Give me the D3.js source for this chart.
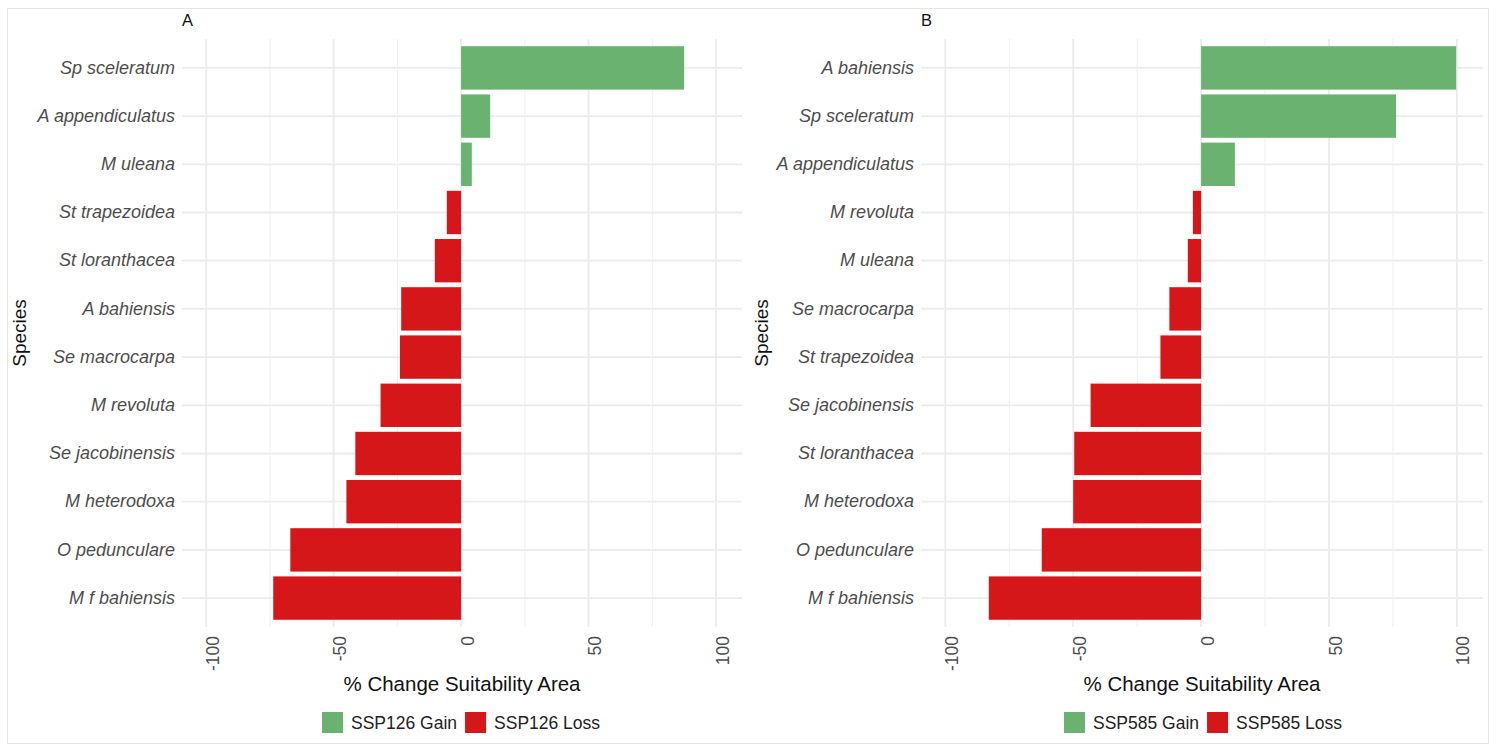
<!DOCTYPE html>
<html>
<head>
<meta charset="utf-8">
<script src="https://cdn.jsdelivr.net/npm/d3@7"></script>
<style>
  body { margin: 0; background: #fff; }
  text { font-family: "Liberation Sans", Arial, sans-serif; }
</style>
</head>
<body>
<div id="root"></div>
<script>
// species and % change values
let speciesA = ["Sp sceleratum", "A appendiculatus", "M uleana", "St trapezoidea", "St loranthacea",
  "A bahiensis", "Se macrocarpa", "M revoluta", "Se jacobinensis", "M heterodoxa", "O pedunculare", "M f bahiensis"];
let valuesA = [87.5, 11.4, 4.2, -5.6, -10.3, -23.5, -24, -31.6, -41.5, -45, -67, -73.7];

let speciesB = ["A bahiensis", "Sp sceleratum", "A appendiculatus", "M revoluta", "M uleana",
  "Se macrocarpa", "St trapezoidea", "Se jacobinensis", "St loranthacea", "M heterodoxa", "O pedunculare", "M f bahiensis"];
let valuesB = [99.7, 76.2, 13.2, -3.2, -5.2, -12.4, -15.9, -43.2, -49.6, -50, -62.3, -83];

let majorTicks = [-100, -50, 0, 50, 100];
let minorTicks = [-75, -25, 25, 75];

let gainColor = "#69b26f";
let lossColor = "#d5171a";

let W = 1497, H = 746;

let svg = d3.select("#root").append("svg")
  .attr("width", W).attr("height", H);

// light frame round the figure
svg.append("rect")
  .attr("x", 7.5).attr("y", 8.5).attr("width", 1481).attr("height", 735)
  .attr("fill", "none").attr("stroke", "#e4e4e4");

const drawPanel = (opts) => {
  let data = opts.species.map((s, i) => ({ name: s, value: opts.values[i] }));
  let top = 39, bottom = 627;

  let x = d3.scaleLinear().domain([-109.5, 110.2]).range([opts.left, opts.right]);
  let y = d3.scaleBand().domain(opts.species).range([top, bottom])
    .paddingInner(0.1).paddingOuter(0.15);

  let g = svg.append("g");

  // minor vertical grid
  g.selectAll(".minor").data(minorTicks).enter().append("line")
    .attr("x1", (d) => x(d)).attr("x2", (d) => x(d))
    .attr("y1", top).attr("y2", bottom)
    .attr("stroke", "#f1f1f1").attr("stroke-width", 1.2);

  // major vertical grid
  g.selectAll(".major").data(majorTicks).enter().append("line")
    .attr("x1", (d) => x(d)).attr("x2", (d) => x(d))
    .attr("y1", top).attr("y2", bottom)
    .attr("stroke", "#ebebeb").attr("stroke-width", 1.8);

  // horizontal grid at each species
  g.selectAll(".hgrid").data(opts.species).enter().append("line")
    .attr("x1", opts.left).attr("x2", opts.right)
    .attr("y1", (d) => y(d) + y.bandwidth() / 2).attr("y2", (d) => y(d) + y.bandwidth() / 2)
    .attr("stroke", "#ebebeb").attr("stroke-width", 1.8);

  // bars
  g.selectAll(".bar").data(data).enter().append("rect")
    .attr("x", (d) => x(Math.min(0, d.value)))
    .attr("width", (d) => Math.abs(x(d.value) - x(0)))
    .attr("y", (d) => y(d.name))
    .attr("height", y.bandwidth())
    .attr("fill", (d) => (d.value >= 0 ? gainColor : lossColor));

  // species labels
  let yAxis = g.append("g")
    .attr("transform", "translate(" + (opts.left - 7) + ",0)")
    .call(d3.axisLeft(y).tickSize(0).tickPadding(0));
  yAxis.select(".domain").remove();
  yAxis.selectAll("text")
    .attr("font-family", "'Liberation Sans', Arial, sans-serif")
    .attr("font-size", 18).attr("font-style", "italic").attr("fill", "#4d4d4d");

  // x axis tick labels, rotated (plain hyphen for the minus sign)
  let xAxis = g.append("g")
    .attr("transform", "translate(0," + bottom + ")")
    .call(d3.axisBottom(x).tickValues(majorTicks).tickSize(0).tickFormat((d) => String(d)));
  xAxis.select(".domain").remove();
  xAxis.selectAll("text")
    .attr("font-family", "'Liberation Sans', Arial, sans-serif")
    .attr("font-size", 17.5).attr("fill", "#4d4d4d")
    .attr("text-anchor", "end")
    .attr("dy", null).attr("y", 0)
    .attr("transform", "translate(12,9) rotate(-90)");

  // axis titles
  g.append("text")
    .attr("x", (opts.left + opts.right) / 2).attr("y", 691)
    .attr("text-anchor", "middle").attr("font-size", 20.5).attr("fill", "#111")
    .text("% Change Suitability Area");

  g.append("text")
    .attr("transform", "translate(" + opts.titleX + "," + (top + bottom) / 2 + ") rotate(-90)")
    .attr("text-anchor", "middle").attr("font-size", 19).attr("fill", "#111")
    .text("Species");

  // panel tag
  g.append("text")
    .attr("x", opts.left).attr("y", 26)
    .attr("font-size", 16.5).attr("fill", "#111")
    .text(opts.tag);

  // legend
  let legend = g.append("g").attr("transform", "translate(" + opts.legendX + ",712)");
  let items = [
    { label: opts.scenario + " Gain", color: gainColor },
    { label: opts.scenario + " Loss", color: lossColor },
  ];
  let offset = 0;
  items.forEach((it) => {
    legend.append("rect")
      .attr("x", offset).attr("y", 0).attr("width", 21).attr("height", 21)
      .attr("fill", it.color);
    let t = legend.append("text")
      .attr("x", offset + 29).attr("y", 17)
      .attr("font-size", 17.5).attr("fill", "#222")
      .text(it.label);
    offset += 29 + t.node().getComputedTextLength() + 8;
  });
};

drawPanel({ species: speciesA, values: valuesA, left: 182, right: 742, titleX: 26,
  tag: "A", scenario: "SSP126", legendX: 322 });
drawPanel({ species: speciesB, values: valuesB, left: 921, right: 1483, titleX: 768,
  tag: "B", scenario: "SSP585", legendX: 1064 });
</script>
</body>
</html>
